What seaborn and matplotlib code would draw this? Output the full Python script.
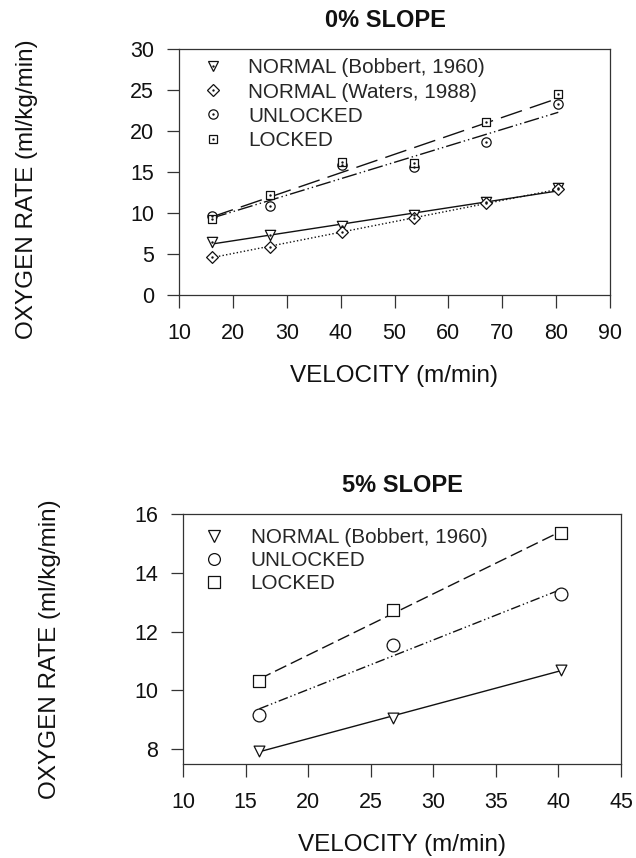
import matplotlib
matplotlib.use("Agg")
import matplotlib.pyplot as plt
from matplotlib.lines import Line2D
import seaborn as sns
import pandas as pd

# Treadmill speeds (m/min) and oxygen rates (ml/kg/min)
velocity_flat = [16.1, 26.8, 40.2, 53.6, 67.0, 80.4]
normal_bobbert_flat = [6.5, 7.3, 8.4, 9.7, 11.3, 13.0]
normal_waters_flat = [4.6, 5.9, 7.7, 9.35, 11.2, 12.9]
unlocked_flat = [9.6, 10.9, 15.9, 15.6, 18.6, 23.3]
locked_flat = [9.3, 12.15, 16.25, 16.05, 21.1, 24.5]

velocity_incline = [16.1, 26.8, 40.2]
normal_bobbert_incline = [7.95, 9.08, 10.70]
unlocked_incline = [9.17, 11.55, 13.27]
locked_incline = [10.33, 12.73, 15.36]

label_bobbert = "NORMAL (Bobbert, 1960)"
label_waters = "NORMAL (Waters, 1988)"
label_unlocked = "UNLOCKED"
label_locked = "LOCKED"

sns.set_style("ticks")
plt.rcParams["font.family"] = ["Liberation Sans", "DejaVu Sans"]
plt.rcParams["axes.edgecolor"] = "#333333"
plt.rcParams["axes.linewidth"] = 0.9

INK = "#111111"
FS_TICK = 15.5
FS_LABEL = 17.5
FS_LEG = 14.9
FS_TITLE = 17

fig = plt.figure(figsize=(6.36, 8.58), dpi=100)
ax_top = fig.add_axes([179 / 636, 1 - 295 / 858, 431 / 636, 246 / 858])
ax_bot = fig.add_axes([183 / 636, 1 - 764 / 858, 438 / 636, 250 / 858])


def fit_line(ax, x, y, dashes, lw=1.0):
    sns.regplot(x=x, y=y, ax=ax, ci=None, scatter=False,
                line_kws=dict(color=INK, lw=lw, linestyle=dashes, zorder=2))


def markers(ax, x, y, marker, size, dot=False):
    df = pd.DataFrame({"x": x, "y": y})
    sns.scatterplot(data=df, x="x", y="y", ax=ax, marker=marker, s=size,
                    color="white", edgecolor=INK, linewidth=0.9, zorder=4)
    if dot:
        sns.scatterplot(data=df, x="x", y="y", ax=ax, marker="o", s=3,
                        color=INK, edgecolor=INK, linewidth=0, zorder=5)


def style_axes(ax, xlim, ylim, xticks, yticks, title, title_x=0.5):
    ax.set_xlim(*xlim)
    ax.set_ylim(*ylim)
    ax.set_xticks(xticks)
    ax.set_yticks(yticks)
    for s in ax.spines.values():
        s.set_visible(True)
    ax.tick_params(direction="out", length=9, width=0.9, color="#333333",
                   labelsize=FS_TICK, labelcolor=INK)
    ax.tick_params(axis="x", pad=11)
    ax.tick_params(axis="y", pad=9)
    ax.set_xlabel("VELOCITY (m/min)", fontsize=FS_LABEL, color=INK, labelpad=15)
    ax.set_ylabel("OXYGEN RATE (ml/kg/min)", fontsize=FS_LABEL, color=INK)
    ax.set_title(title, fontsize=FS_TITLE, fontweight="bold", color=INK,
                 pad=16, x=title_x)


# 0% slope panel
fit_line(ax_top, velocity_flat, normal_bobbert_flat, "-")
fit_line(ax_top, velocity_flat, normal_waters_flat, (0, (1, 1.6)))
fit_line(ax_top, velocity_flat, unlocked_flat, (0, (11, 2.2, 1, 2.2, 1, 2.2)))
fit_line(ax_top, velocity_flat, locked_flat, (0, (16, 6)))
markers(ax_top, velocity_flat, normal_bobbert_flat, "v", 55, dot=True)
markers(ax_top, velocity_flat, normal_waters_flat, "D", 36, dot=True)
markers(ax_top, velocity_flat, unlocked_flat, "o", 45, dot=True)
markers(ax_top, velocity_flat, locked_flat, "s", 36, dot=True)
style_axes(ax_top, (10, 90), (0, 30), range(10, 91, 10), range(0, 31, 5),
           "0% SLOPE", title_x=0.478)
ax_top.yaxis.set_label_coords(-0.327, 0.43)


def legend_handle(marker, ms, dot):
    base = Line2D([], [], linestyle="none", marker=marker, markersize=ms,
                  markerfacecolor="white", markeredgecolor=INK, markeredgewidth=0.9)
    if not dot:
        return base
    centre = Line2D([], [], linestyle="none", marker="o", markersize=1.7,
                    markerfacecolor=INK, markeredgecolor=INK, markeredgewidth=0)
    return (base, centre)


top_handles = [legend_handle("v", 7.4, True), legend_handle("D", 6, True),
               legend_handle("o", 6.7, True), legend_handle("s", 6, True)]
ax_top.legend(top_handles, [label_bobbert, label_waters, label_unlocked, label_locked],
              loc="upper left", bbox_to_anchor=(0.055, 0.962), frameon=False,
              fontsize=FS_LEG, handlelength=1.0, handletextpad=1.2,
              labelspacing=0.25, borderpad=0, borderaxespad=0)

# 5% slope panel
fit_line(ax_bot, velocity_incline, normal_bobbert_incline, "-")
fit_line(ax_bot, velocity_incline, unlocked_incline, (0, (7, 2, 1, 2, 1, 2)))
fit_line(ax_bot, velocity_incline, locked_incline, (0, (9, 3.6)))
markers(ax_bot, velocity_incline, normal_bobbert_incline, "v", 60)
markers(ax_bot, velocity_incline, unlocked_incline, "o", 85)
markers(ax_bot, velocity_incline, locked_incline, "s", 70)
style_axes(ax_bot, (10, 45), (7.5, 16), range(10, 46, 5), range(8, 17, 2), "5% SLOPE")
ax_bot.yaxis.set_label_coords(-0.279, 0.46)

bot_handles = [legend_handle("v", 8, False), legend_handle("o", 8.5, False),
               legend_handle("s", 8, False)]
ax_bot.legend(bot_handles, [label_bobbert, label_unlocked, label_locked],
              loc="upper left", bbox_to_anchor=(0.048, 0.945), frameon=False,
              fontsize=FS_LEG, handlelength=1.0, handletextpad=1.25,
              labelspacing=0.2, borderpad=0, borderaxespad=0)

fig.savefig("out.png", dpi=100, facecolor="white")
